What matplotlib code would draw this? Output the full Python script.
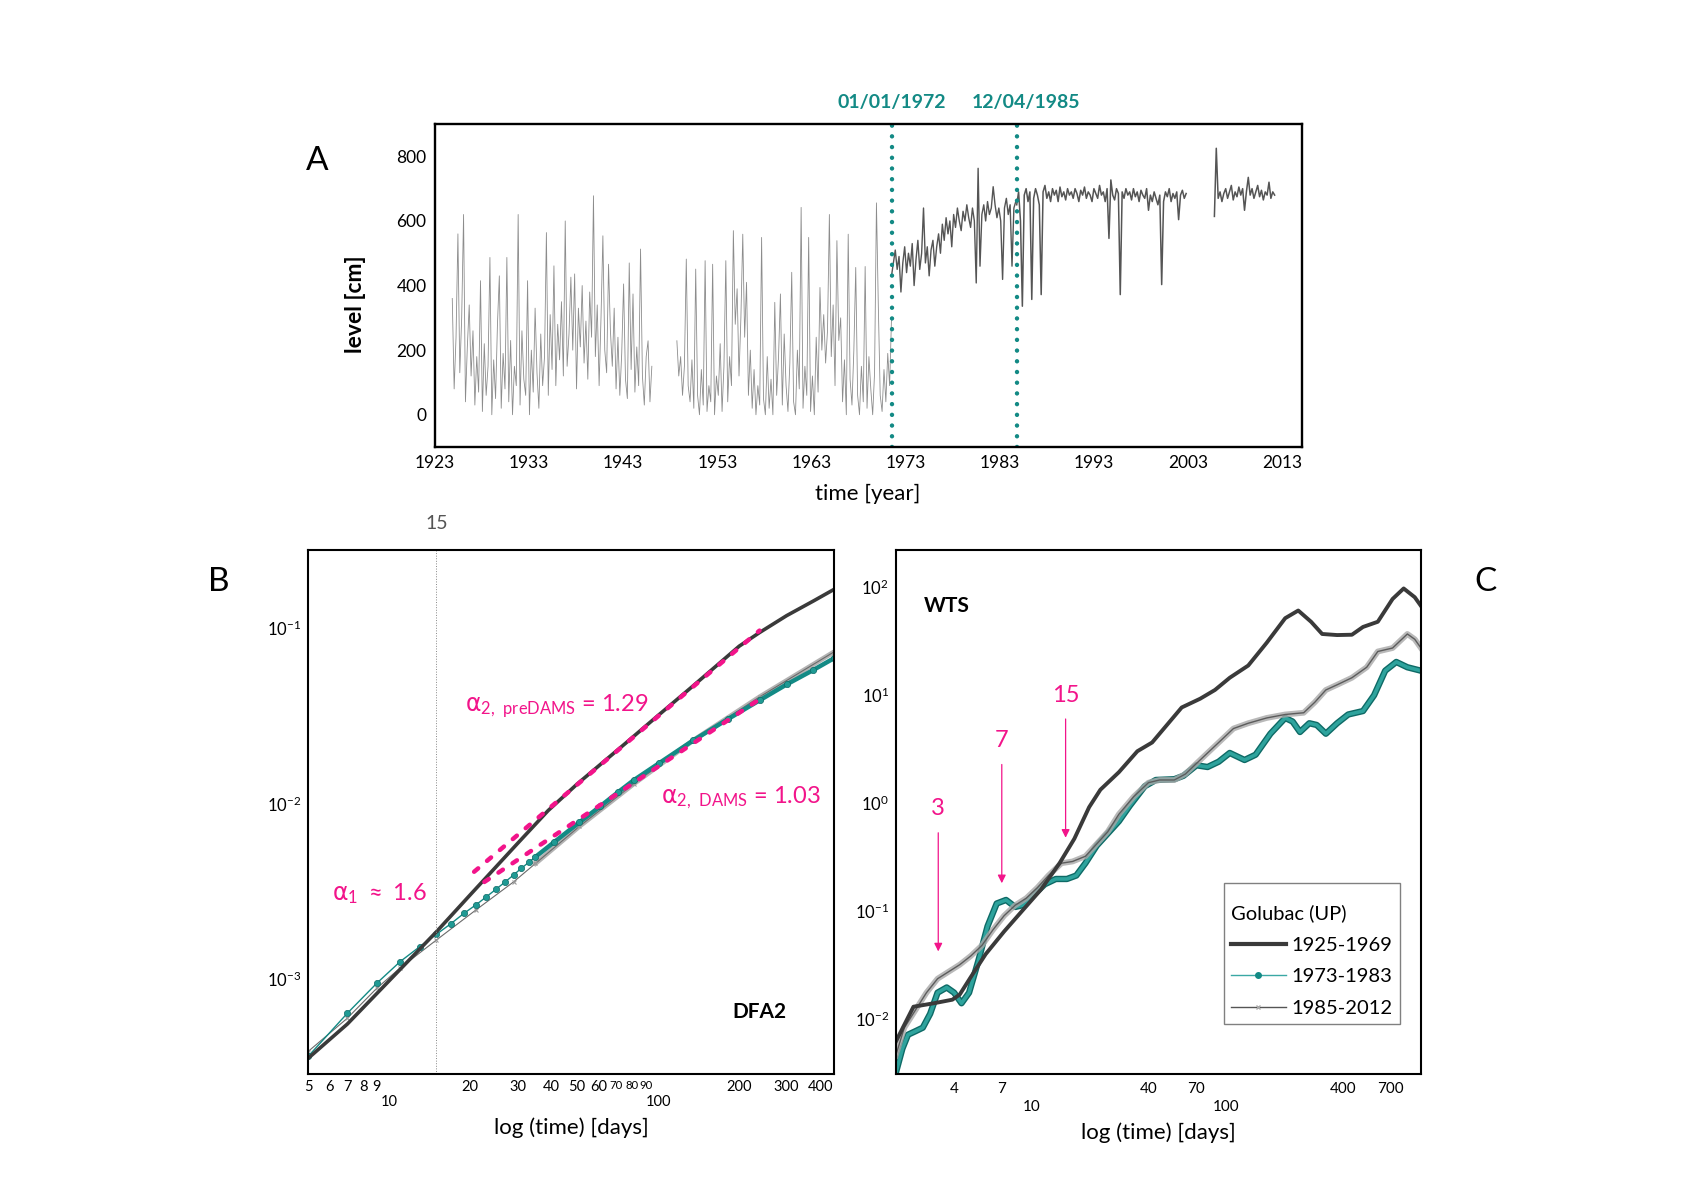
import matplotlib
matplotlib.use('Agg')
import matplotlib.pyplot as plt
import numpy as np
from matplotlib.lines import Line2D

plt.rcParams['font.family'] = ['Lato', 'DejaVu Sans']
plt.rcParams['mathtext.default'] = 'regular'

TEAL = '#138a85'
PINK = '#f2148a'
DARK = '#3a3a3a'

# ---------------- A: water level, values read every 0.2 year ----------------
step = 0.2
seg1_start = 1924.84
seg1 = [360, 80, 240, 560, 130, 300, 620, 40, 210, 340,
        120, 260, 30, 180, 70, 415, 10, 220, 60, 150,
        487, 0, 170, 50, 280, 430, 20, 190, 80, 487,
        40, 230, 0, 150, 90, 620, 30, 260, 110, 60,
        415, 0, 200, 70, 330, 130, 20, 250, 90, 180,
        564, 60, 310, 140, 461, 90, 280, 170, 350, 120,
        600, 150, 250, 426, 200, 436, 80, 330, 210, 400,
        160, 290, 110, 380, 240, 678, 180, 340, 90, 300,
        554, 200, 130, 466, 260, 150, 330, 80, 240, 60,
        190, 405, 110, 50, 470, 140, 374, 70, 210, 90,
        513, 120, 30, 180, 229, 40, 150]
seg2_start = 1948.7
seg2 = [229, 120, 180, 60, 150, 482, 90, 40, 170, 20,
        451, 60, 0, 140, 30, 477, 10, 90, 40, 466,
        0, 120, 60, 220, 10, 150, 477, 40, 180, 90,
        570, 280, 390, 120, 300, 559, 240, 410, 60, 200,
        20, 140, 0, 90, 30, 549, 50, 0, 180, 20,
        110, 0, 348, 60, 180, 374, 30, 250, 90, 10,
        160, 441, 40, 0, 200, 80, 642, 20, 150, 60,
        549, 10, 120, 0, 240, 70, 394, 200, 310, 160,
        260, 620, 180, 340, 90, 539, 230, 300, 40, 170,
        0, 559, 110, 30, 200, 456, 60, 0, 150, 40,
        459, 20, 180, 80, 0, 130, 656, 335, 60, 10,
        140, 40, 190, 90, 300]
seg3_start = 1971.5
seg3 = [430, 470, 510, 450, 490, 380, 470, 520, 440, 500,
        460, 530, 400, 480, 540, 450, 500, 640, 470, 520,
        430, 510, 540, 460, 520, 560, 500, 590, 540, 610,
        560, 600, 520, 620, 580, 640, 600, 570, 630, 600,
        650, 610, 580, 640, 600, 408, 763, 460, 620, 650,
        600, 660, 620, 640, 706, 650, 610, 640, 600, 419,
        640, 670, 620, 650, 460, 640, 660]
seg4_start = 1984.8
seg4 = [650, 690, 600, 336, 680, 700, 660, 690, 357, 670,
        700, 680, 650, 372, 690, 710, 670, 690, 660, 700,
        680, 695, 660, 705, 675, 690, 665, 700, 680, 690,
        670, 700, 685, 660, 695, 680, 705, 670, 690, 680,
        660, 700, 685, 670, 710, 680, 690, 660, 700, 546,
        727, 680, 665, 700, 685, 372, 690, 670, 700, 680,
        690, 665, 700, 675, 690, 660, 695, 680, 670, 700,
        633, 680, 660, 690, 670, 650, 680, 403, 660, 690,
        675, 700, 660, 685, 670, 690, 604, 680, 695, 670,
        685]
seg5_start = 2005.8
seg5 = [614, 825, 670, 690, 660, 685, 700, 670, 690, 710,
        665, 690, 675, 705, 680, 700, 633, 690, 735, 680,
        700, 670, 690, 710, 675, 695, 665, 690, 680, 720,
        670, 690, 680]

dam_lines = [1971.5, 1984.8]
dam_labels = ['01/01/1972', '12/04/1985']
dam_label_x = [1971.5, 1985.8]
a_xticks = [1923, 1933, 1943, 1953, 1963, 1973, 1983, 1993, 2003, 2013]
a_yticks = [0, 200, 400, 600, 800]

# ---------------- B: DFA2 fluctuation functions ----------------
b_black_x = [5, 7, 10, 15, 20, 30, 39, 50, 75, 100, 134, 200, 238, 300, 377, 448]
b_black_y = [3.5e-4, 5.5e-4, 9.7e-4, 1.85e-3, 3.0e-3, 5.9e-3, 9.1e-3, 0.0129,
             0.0218, 0.0318, 0.0465, 0.0790, 0.0945, 0.118, 0.143, 0.166]
b_teal_x = [5, 7, 9, 11, 13, 15, 17, 19, 21, 23, 25, 27, 29, 31, 33, 35,
            41, 51, 61, 71, 81, 101, 135, 181, 239, 301, 375, 449]
b_teal_y = [3.59e-4, 6.34e-4, 9.4e-4, 1.25e-3, 1.52e-3, 1.79e-3, 2.06e-3, 2.36e-3,
            2.63e-3, 2.93e-3, 3.24e-3, 3.56e-3, 3.9e-3, 4.26e-3, 4.6e-3, 4.95e-3,
            6.0e-3, 7.8e-3, 9.64e-3, 0.0116, 0.01355, 0.0170, 0.0229, 0.0302,
            0.0389, 0.0479, 0.0575, 0.0673]
b_gray_x = [5, 7, 9, 11, 15, 21, 29, 35, 51, 81, 135, 239, 449]
b_gray_y = [3.83e-4, 5.94e-4, 8.8e-4, 1.15e-3, 1.66e-3, 2.46e-3, 3.56e-3, 4.54e-3,
            7.4e-3, 0.0129, 0.0229, 0.0407, 0.0731]
fit_pre_x = [20.7, 238]
fit_pre_y = [4.07e-3, 0.097]
fit_dams_x = [22.6, 245]
fit_dams_y = [3.56e-3, 0.0405]
b_xticks = [5, 6, 7, 8, 9, 20, 30, 40, 50, 60, 70, 80, 90, 200, 300, 400]

# ---------------- C: WTS (log10 of time and of WTS) ----------------
c_black_lx = [0.300, 0.391, 0.496, 0.591, 0.629, 0.686, 0.762, 0.857, 0.952, 1.047,
              1.142, 1.218, 1.294, 1.352, 1.447, 1.542, 1.618, 1.694, 1.770, 1.865,
              1.941, 2.017, 2.112, 2.207, 2.302, 2.369, 2.435, 2.492, 2.569, 2.645,
              2.702, 2.778, 2.854, 2.911, 2.968, 3.000]
c_black_ly = [-2.210, -1.886, -1.854, -1.821, -1.773, -1.611, -1.400, -1.190, -0.995, -0.801,
              -0.558, -0.332, -0.040, 0.122, 0.284, 0.478, 0.559, 0.721, 0.883, 0.964,
              1.045, 1.158, 1.271, 1.482, 1.709, 1.780, 1.676, 1.563, 1.553, 1.556,
              1.628, 1.676, 1.887, 1.984, 1.903, 1.822]
c_teal_lx = [0.300, 0.334, 0.363, 0.401, 0.439, 0.477, 0.515, 0.562, 0.600, 0.638,
             0.677, 0.724, 0.772, 0.819, 0.867, 0.914, 0.952, 1.009, 1.066, 1.123,
             1.180, 1.228, 1.275, 1.333, 1.390, 1.447, 1.504, 1.580, 1.637, 1.732,
             1.779, 1.846, 1.903, 1.960, 2.017, 2.093, 2.150, 2.226, 2.302, 2.340,
             2.378, 2.426, 2.464, 2.511, 2.569, 2.626, 2.702, 2.759, 2.816, 2.873,
             2.930, 3.000]
c_teal_ly = [-2.501, -2.275, -2.145, -2.113, -2.080, -1.951, -1.756, -1.708, -1.756, -1.854,
             -1.756, -1.465, -1.141, -0.931, -0.898, -0.963, -0.947, -0.850, -0.753, -0.704,
             -0.704, -0.672, -0.558, -0.396, -0.283, -0.170, -0.024, 0.154, 0.212, 0.219,
             0.251, 0.348, 0.332, 0.381, 0.462, 0.397, 0.446, 0.640, 0.786, 0.753,
             0.656, 0.737, 0.721, 0.640, 0.737, 0.818, 0.850, 0.996, 1.223, 1.304,
             1.255, 1.223]
c_gray_lx = [0.300, 0.344, 0.401, 0.458, 0.515, 0.572, 0.629, 0.686, 0.743, 0.800,
             0.857, 0.914, 0.971, 1.028, 1.085, 1.152, 1.209, 1.275, 1.333, 1.390,
             1.447, 1.523, 1.599, 1.656, 1.732, 1.789, 1.846, 1.903, 1.979, 2.036,
             2.112, 2.207, 2.302, 2.397, 2.454, 2.511, 2.569, 2.645, 2.721, 2.778,
             2.854, 2.930, 2.968, 3.000]
c_gray_ly = [-2.339, -2.080, -1.918, -1.756, -1.627, -1.562, -1.497, -1.416, -1.319, -1.174,
             -1.044, -0.947, -0.882, -0.785, -0.672, -0.558, -0.542, -0.494, -0.380, -0.267,
             -0.105, 0.057, 0.187, 0.212, 0.212, 0.267, 0.365, 0.462, 0.591, 0.688,
             0.737, 0.786, 0.818, 0.834, 0.931, 1.045, 1.093, 1.158, 1.255, 1.401,
             1.433, 1.563, 1.514, 1.433]
c_arrow_x = [3.3, 7.0, 14.9]
c_arrow_top = [-0.251, 0.381, 0.802]
c_arrow_tip = [-1.40, -0.769, -0.348]
c_arrow_text = ['3', '7', '15']
c_text_ly = [-0.056, 0.575, 0.996]
c_xticks = [4, 7, 40, 70, 400, 700]

# ============================================================
fig = plt.figure(figsize=(17.03, 11.94), dpi=100)

# ---- A ----
axA = fig.add_axes([0.2554, 0.6256, 0.5091, 0.2705])
for start, vals, col, lw in [(seg1_start, seg1, '#8c8c8c', 0.6),
                             (seg2_start, seg2, '#8c8c8c', 0.6),
                             (seg3_start, seg3, '#555555', 1.0),
                             (seg4_start, seg4, '#555555', 1.1),
                             (seg5_start, seg5, '#555555', 1.1)]:
    t = start + step * np.arange(len(vals))
    axA.plot(t, vals, color=col, lw=lw)
for x in dam_lines:
    axA.axvline(x, color=TEAL, lw=3.2, linestyle=(0, (0.01, 2.4)), dash_capstyle='round')
for x, lab in zip(dam_label_x, dam_labels):
    axA.text(x, 1.068, lab, transform=axA.get_xaxis_transform(), ha='center', va='center',
             color=TEAL, fontsize=14, fontweight='bold')
axA.set_xlim(1923, 2015.1)
axA.set_ylim(-100, 900)
axA.set_xticks(a_xticks)
axA.set_yticks(a_yticks)
axA.tick_params(length=0, labelsize=12.5, pad=6)
for s in axA.spines.values():
    s.set_linewidth(1.7)
fig.text(0.5097, 0.5863, 'time [year]', ha='center', va='center', fontsize=16)
fig.text(0.209, 0.7454, 'level [cm]', ha='center', va='center', fontsize=16.5,
         fontweight='bold', rotation=90)

# ---- B ----
axB = fig.add_axes([0.1809, 0.1005, 0.3088, 0.4389])
axB.set_xscale('log')
axB.set_yscale('log')
gx, gy = np.array(b_gray_x), np.array(b_gray_y)
tx, ty = np.array(b_teal_x), np.array(b_teal_y)
axB.plot(gx[gx >= 35], gy[gx >= 35], color='#a0a0a0', lw=3.5, alpha=0.8)
axB.plot(gx, gy, color='#6a6a6a', lw=0.8, marker='x', ms=3, mec='#9a9a9a', mew=0.8)
axB.plot(tx[tx >= 35], ty[tx >= 35], color=TEAL, lw=3.2)
axB.plot(tx, ty, color=TEAL, lw=1.0, marker='o', ms=4.5, mfc='#1f9a94', mec='#0f6b67', mew=0.5)
axB.plot(b_black_x, b_black_y, color=DARK, lw=2.6)
dash = dict(color=PINK, lw=3.2, linestyle=(0, (1.2, 2.6)), dash_capstyle='round')
axB.plot(fit_pre_x, fit_pre_y, **dash)
axB.plot(fit_dams_x, fit_dams_y, **dash)
axB.axvline(15, color='#888888', lw=0.7, linestyle=':')
axB.text(15, 1.05, '15', transform=axB.get_xaxis_transform(), ha='center', va='center',
         fontsize=14, color='#555555')
axB.set_xlim(5, 450)
axB.set_ylim(2.85e-4, 0.28)
axB.set_xticks(b_xticks)
axB.set_xticklabels([str(v) for v in b_xticks])
axB.set_xticks([10, 100], minor=True)
axB.set_xticklabels(['10', '100'], minor=True)
axB.set_yticks([1e-3, 1e-2, 1e-1])
axB.set_yticklabels([r'$10^{-3}$', r'$10^{-2}$', r'$10^{-1}$'])
axB.set_yticks([], minor=True)
axB.tick_params(axis='x', which='major', length=0, labelsize=10.5, pad=4)
axB.tick_params(axis='x', which='minor', length=0, labelsize=10.5, pad=15)
axB.tick_params(axis='y', length=0, labelsize=12, pad=5)
# crowded labels 70/80/90 sit very close on the log axis
for lab in axB.get_xticklabels():
    if lab.get_text() in ('70', '80', '90'):
        lab.set_fontsize(8.2)
for s in axB.spines.values():
    s.set_linewidth(1.5)
axB.text(0.135, 0.345, r'$\mathrm{\alpha}_{1}$ $\approx$ 1.6', transform=axB.transAxes,
         color=PINK, fontsize=17, ha='center', va='center')
axB.text(0.473, 0.702, r'$\mathrm{\alpha}_{2,\ preDAMS}$ = 1.29', transform=axB.transAxes,
         color=PINK, fontsize=17, ha='center', va='center')
axB.text(0.823, 0.527, r'$\mathrm{\alpha}_{2,\ DAMS}$ = 1.03', transform=axB.transAxes,
         color=PINK, fontsize=17, ha='center', va='center')
axB.text(0.859, 0.118, 'DFA2', transform=axB.transAxes, fontsize=15, fontweight='bold',
         ha='center', va='center')
fig.text(0.3353, 0.0553, 'log (time) [days]', ha='center', va='center', fontsize=16)

# ---- C ----
axC = fig.add_axes([0.5261, 0.1005, 0.3083, 0.4389])
axC.set_xscale('log')
axC.set_yscale('log')
ctx, cty = 10 ** np.array(c_teal_lx), 10 ** np.array(c_teal_ly)
cgx, cgy = 10 ** np.array(c_gray_lx), 10 ** np.array(c_gray_ly)
cbx, cby = 10 ** np.array(c_black_lx), 10 ** np.array(c_black_ly)
axC.plot(ctx, cty, color='#0e6a66', lw=4.6)
axC.plot(ctx, cty, color='#2ea39d', lw=2.6)
axC.plot(cgx, cgy, color='#a8a8a8', lw=4.2, alpha=0.8)
axC.plot(cgx, cgy, color='#5c5c5c', lw=1.0)
axC.plot(cbx, cby, color=DARK, lw=2.8)
for x, y0, y1, lab, yt in zip(c_arrow_x, c_arrow_top, c_arrow_tip, c_arrow_text, c_text_ly):
    axC.annotate('', xy=(x, 10 ** y1), xytext=(x, 10 ** y0),
                 arrowprops=dict(arrowstyle='-|>', color=PINK, lw=0.9, mutation_scale=12))
    axC.text(x, 10 ** yt, lab, color=PINK, fontsize=17, ha='center', va='center')
axC.set_xlim(2, 1000)
axC.set_ylim(3.1e-3, 219)
axC.set_xticks(c_xticks)
axC.set_xticklabels([str(v) for v in c_xticks])
axC.set_xticks([10, 100], minor=True)
axC.set_xticklabels(['10', '100'], minor=True)
axC.set_yticks([1e-2, 1e-1, 1, 10, 100])
axC.set_yticklabels([r'$10^{-2}$', r'$10^{-1}$', r'$10^{0}$', r'$10^{1}$', r'$10^{2}$'])
axC.set_yticks([], minor=True)
axC.tick_params(axis='x', which='major', length=0, labelsize=11, pad=6)
axC.tick_params(axis='x', which='minor', length=0, labelsize=11, pad=19)
axC.tick_params(axis='y', length=0, labelsize=12, pad=5)
for s in axC.spines.values():
    s.set_linewidth(1.5)
axC.text(0.097, 0.893, 'WTS', transform=axC.transAxes, fontsize=15, fontweight='bold',
         ha='center', va='center')
handles = [Line2D([], [], color=DARK, lw=3),
           Line2D([], [], color='#3aa8a4', lw=1, marker='o', ms=4, mfc=TEAL, mec=TEAL),
           Line2D([], [], color='#555555', lw=1, marker='x', ms=3, mec='#aaaaaa')]
leg = axC.legend(handles, ['1925-1969', '1973-1983', '1985-2012'], title='\nGolubac (UP)',
                 loc='upper left', bbox_to_anchor=(0.625, 0.3645), borderaxespad=0,
                 fontsize=14.5, title_fontsize=14.5, handlelength=2.7, handletextpad=0.3,
                 fancybox=False, framealpha=1, edgecolor='#808080', borderpad=0.35,
                 labelspacing=0.72)
leg._legend_box.align = 'left'
leg.get_title().set_linespacing(0.8)
leg.get_frame().set_linewidth(1.0)
fig.text(0.68, 0.0511, 'log (time) [days]', ha='center', va='center', fontsize=16)

# panel letters
fig.text(0.186, 0.865, 'A', fontsize=24, ha='center', va='center')
fig.text(0.1286, 0.5126, 'B', fontsize=24, ha='center', va='center')
fig.text(0.872, 0.5126, 'C', fontsize=24, ha='center', va='center')

fig.savefig('out.png', dpi=100)
